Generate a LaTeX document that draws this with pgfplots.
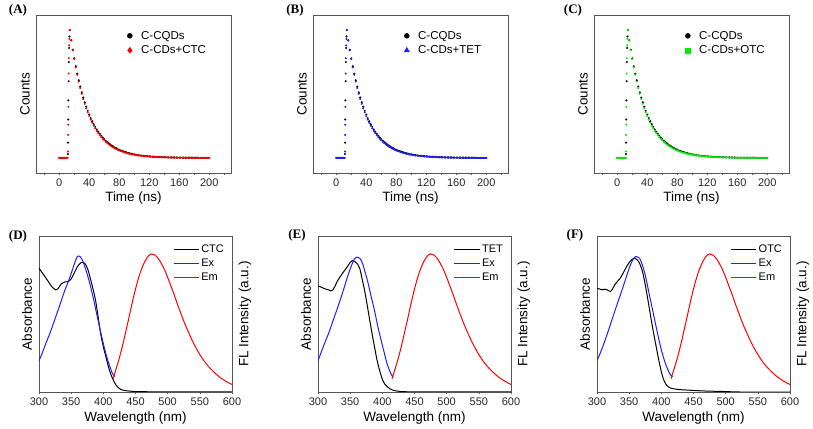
\documentclass[border=0pt]{standalone}
\usepackage{pgfplots}
\pgfplotsset{compat=1.18}
\usepackage{pgfplotstable}
\usepackage{fontspec}
\setmainfont{Liberation Sans}
\newfontfamily\tnr{Liberation Serif}
\definecolor{myblue}{RGB}{30,30,255}
\definecolor{mygreen}{RGB}{0,240,0}
\definecolor{myred}{RGB}{255,0,0}
\definecolor{frame}{RGB}{85,85,85}

\pgfplotstableread{
t a b
0 0 0
1 0 0
2 0 0
3 0 0
4 0 0
5 0 0
6 0 0
7 0 0
8 0 0
9 0 0
10 0 0
11 0 0
11.6 0.03 0.05
11.8 0.12 0.18
12 0.30 0.26
12.2 0.45 0.40
12.5 0.60 0.66
12.8 0.75 0.78
13.2 0.86 0.88
13.6 0.95 0.93
14 1.000 1.000
16 0.920 0.918
18 0.846 0.842
20 0.779 0.773
22 0.717 0.709
24 0.659 0.650
26 0.607 0.597
28 0.558 0.547
30 0.513 0.502
32 0.472 0.461
34 0.435 0.423
36 0.400 0.388
38 0.368 0.356
40 0.339 0.327
42 0.311 0.300
44 0.287 0.275
46 0.264 0.252
48 0.243 0.231
50 0.223 0.212
52 0.205 0.195
54 0.189 0.179
56 0.174 0.164
58 0.160 0.150
60 0.147 0.138
62 0.135 0.126
64 0.125 0.116
66 0.115 0.106
68 0.105 0.097
70 0.097 0.089
72 0.089 0.082
74 0.082 0.075
76 0.076 0.069
78 0.069 0.063
80 0.064 0.058
82 0.059 0.053
84 0.054 0.049
86 0.050 0.045
88 0.046 0.041
90 0.042 0.038
92 0.039 0.035
94 0.036 0.032
96 0.033 0.029
98 0.030 0.027
100 0.028 0.025
102 0.026 0.023
104 0.024 0.021
106 0.022 0.019
108 0.020 0.018
110 0.018 0.016
112 0.017 0.015
114 0.015 0.014
116 0.014 0.013
118 0.013 0.012
120 0.012 0.011
122 0.011 0.010
124 0.010 0.009
126 0.009 0.008
128 0.009 0.008
130 0.008 0.007
132 0.007 0.006
134 0.007 0.006
136 0.006 0.005
138 0.006 0.005
140 0.005 0.004
142 0.005 0.004
144 0.004 0.004
146 0.004 0.003
148 0.004 0.003
150 0.003 0.003
152 0.003 0.003
154 0.003 0.002
156 0.003 0.002
158 0.002 0.002
160 0.002 0.002
162 0.002 0.002
164 0.002 0.001
166 0.002 0.001
168 0.001 0.001
170 0.001 0.001
172 0.001 0.001
174 0.001 0.001
176 0.001 0.001
178 0.001 0.001
180 0.001 0.000
182 0.001 0.000
184 0.001 0.000
186 0.000 0.000
188 0.000 0.000
190 0.000 0.000
192 0.000 0.000
194 0.000 0.000
196 0.000 0.000
198 0.000 0.000
200 0.000 0.000
}\decay

\pgfplotstableread{
x y
415 0.085
420 0.15
425 0.22
430 0.30
435 0.39
440 0.48
445 0.575
450 0.66
455 0.735
460 0.795
465 0.84
470 0.872
475 0.885
480 0.878
485 0.858
490 0.825
495 0.785
500 0.735
505 0.68
510 0.625
515 0.565
520 0.51
525 0.455
530 0.405
540 0.315
550 0.24
560 0.18
570 0.135
580 0.098
590 0.07
600 0.048
}\emission

\pgfplotstableread{
x y
300 0.793
305 0.765
310 0.735
315 0.705
320 0.675
326 0.655
330 0.665
335 0.695
340 0.705
345 0.708
350 0.725
355 0.765
360 0.805
365 0.828
368 0.832
372 0.820
376 0.785
380 0.725
384 0.66
388 0.585
392 0.48
396 0.37
400 0.29
404 0.225
408 0.16
412 0.11
416 0.072
420 0.043
425 0.022
430 0.012
440 0.006
450 0.003
470 0.0015
500 0.001
550 0.0005
600 0.0
}\absCTC

\pgfplotstableread{
x y
300 0.20
305 0.25
310 0.305
317 0.377
325 0.47
333 0.565
340 0.65
348 0.735
354 0.81
358 0.855
361 0.872
364 0.868
368 0.84
372 0.795
376 0.74
380 0.68
385 0.59
390 0.495
395 0.40
400 0.31
405 0.23
410 0.165
414 0.12
418 0.10
}\exCTC

\pgfplotstableread{
x y
300 0.68
305 0.672
311 0.661
316 0.655
320 0.648
323 0.655
326 0.675
330 0.71
335 0.742
340 0.772
345 0.80
350 0.83
353 0.842
357 0.838
361 0.822
365 0.79
368 0.735
372 0.66
376 0.569
380 0.47
384 0.375
388 0.285
392 0.20
396 0.135
400 0.082
404 0.05
408 0.033
412 0.02
417 0.011
425 0.005
433 0.002
460 0.001
600 0.0
}\absTET

\pgfplotstableread{
x y
300 0.20
305 0.255
310 0.31
316.6 0.377
324 0.465
332 0.559
340 0.66
347.6 0.761
352 0.81
356 0.85
359.5 0.864
363 0.862
366 0.852
370 0.815
373 0.77
376 0.729
380 0.66
383 0.605
386.4 0.548
390 0.48
393 0.42
396.7 0.356
400 0.30
404 0.235
407 0.186
411 0.14
415 0.104
417.4 0.10
}\exTET

\pgfplotstableread{
x y
300 0.665
304 0.66
308 0.655
312 0.659
316 0.655
320.7 0.644
324 0.66
328 0.69
332 0.71
336 0.729
341 0.765
346 0.804
351 0.835
355 0.852
358 0.857
361 0.852
365 0.834
369 0.795
372 0.75
376 0.665
380 0.569
384 0.47
388 0.377
392 0.29
396 0.205
400 0.13
403 0.085
407 0.05
411 0.033
414 0.026
420 0.02
430 0.015
450 0.01
470 0.006
500 0.003
522 0.0
600 0.0
}\absOTC

\pgfplotstableread{
x y
300 0.20
308 0.28
315.5 0.367
323 0.46
331 0.559
339 0.655
346.6 0.751
352 0.815
356 0.85
360 0.868
363 0.866
366.2 0.857
370 0.82
375 0.75
380 0.65
385.3 0.548
390 0.455
395.7 0.345
400 0.27
406 0.186
410 0.145
413.8 0.111
418 0.10
}\exOTC

\pgfplotsset{
  common/.style={scale only axis,
    axis line style={frame, line width=0.7pt},
    ytick=\empty, xtick pos=left, tick align=outside,
    major tick length=2pt, minor tick length=2pt,
    tick style={frame, line width=0.6pt},
    tick label style={font=\fontsize{11}{13}\selectfont, text=black!85},
    /pgf/number format/assume math mode=true,
    label style={font=\fontsize{13.5}{16}\selectfont},
    legend cell align=left},
  decay/.style={common, width=195pt, height=158pt,
    xmin=-31, xmax=229, ymin=-0.118, ymax=1.118,
    xtick={0,40,...,200}, minor xtick={-20,20,...,220},
    xlabel={Time (ns)}, ylabel={Counts},
    xlabel style={at={(axis description cs:0.5,-0.158)}, anchor=center},
    ylabel style={at={(axis description cs:-0.056,0.5)}, anchor=center},
    legend style={draw=none, fill=none, at={(0.42,0.925)}, anchor=north west,
      font=\fontsize{11.5}{13}\selectfont, row sep=1pt},
    legend image code/.code={\path (0cm,0cm) (0.62cm,0cm); \draw[##1] plot coordinates {(0.3cm,0cm)};}},
  spec/.style={common, width=193pt, height=156pt,
    xmin=300, xmax=600, ymin=0, ymax=1,
    xtick={300,350,...,600},
    xlabel={Wavelength (nm)}, ylabel={Absorbance},
    xlabel style={at={(axis description cs:0.5,-0.167)}, anchor=center},
    ylabel style={at={(axis description cs:-0.062,0.5)}, anchor=center},
    legend style={draw=none, fill=none, at={(0.985,0.97)}, anchor=north east,
      font=\fontsize{11}{13}\selectfont, row sep=1pt},
    legend image code/.code={\draw[##1] plot coordinates {(0cm,0cm) (0.88cm,0cm)};},
    extra description/.code={\node[rotate=90, anchor=center, font=\fontsize{13.5}{16}\selectfont] at (1.067,0.5) {FL Intensity (a.u.)};}},
  dots/.style={only marks, mark size=0.8pt, forget plot},
  curve/.style={smooth, line width=1pt, forget plot}
}

\begin{document}
\begin{tikzpicture}
\path[use as bounding box] (0pt,0pt) rectangle (813pt,428pt);

\begin{axis}[decay, at={(36pt,255pt)}, anchor=south west]
\addlegendimage{only marks, mark=*, mark size=2.5pt, black}
\addlegendentry{C-CQDs}
\addlegendimage{only marks, mark=diamond*, mark size=3pt, myred}
\addlegendentry{C-CDs+CTC}
\addplot[dots, mark=*, black] table[x=t, y=a] {\decay};
\addplot[dots, mark=*, myred] table[x=t, y=b] {\decay};
\end{axis}

\begin{axis}[decay, at={(313pt,255pt)}, anchor=south west]
\addlegendimage{only marks, mark=*, mark size=2.5pt, black}
\addlegendentry{C-CQDs}
\addlegendimage{only marks, mark=triangle*, mark size=3pt, myblue}
\addlegendentry{C-CDs+TET}
\addplot[dots, mark=*, black] table[x=t, y=a] {\decay};
\addplot[dots, mark=*, myblue] table[x=t, y=b] {\decay};
\end{axis}

\begin{axis}[decay, at={(594pt,255pt)}, anchor=south west]
\addlegendimage{only marks, mark=*, mark size=2.5pt, black}
\addlegendentry{C-CQDs}
\addlegendimage{only marks, mark=square*, mark size=2.4pt, mygreen}
\addlegendentry{C-CDs+OTC}
\addplot[dots, mark=*, black] table[x=t, y=a] {\decay};
\addplot[dots, mark=*, mygreen] table[x=t, y=b] {\decay};
\end{axis}

\begin{axis}[spec, at={(39pt,36pt)}, anchor=south west]
\addlegendimage{black, line width=1.2pt}
\addlegendentry{CTC}
\addlegendimage{myblue, line width=1.2pt}
\addlegendentry{Ex}
\addlegendimage{myred, line width=1.2pt}
\addlegendentry{Em}
\addplot[curve, black] table {\absCTC};
\addplot[curve, myblue] table {\exCTC};
\addplot[curve, myred] table {\emission};
\end{axis}

\begin{axis}[spec, at={(318pt,36pt)}, anchor=south west]
\addlegendimage{black, line width=1.2pt}
\addlegendentry{TET}
\addlegendimage{myblue, line width=1.2pt}
\addlegendentry{Ex}
\addlegendimage{myred, line width=1.2pt}
\addlegendentry{Em}
\addplot[curve, black] table {\absTET};
\addplot[curve, myblue] table {\exTET};
\addplot[curve, myred] table {\emission};
\end{axis}

\begin{axis}[spec, at={(597pt,36pt)}, anchor=south west]
\addlegendimage{black, line width=1.2pt}
\addlegendentry{OTC}
\addlegendimage{myblue, line width=1.2pt}
\addlegendentry{Ex}
\addlegendimage{myred, line width=1.2pt}
\addlegendentry{Em}
\addplot[curve, black] table {\absOTC};
\addplot[curve, myblue] table {\exOTC};
\addplot[curve, myred] table {\emission};
\end{axis}

\node[font=\tnr\bfseries\fontsize{13}{15}\selectfont] at (18pt,418pt) {(A)};
\node[font=\tnr\bfseries\fontsize{13}{15}\selectfont] at (295pt,418pt) {(B)};
\node[font=\tnr\bfseries\fontsize{13}{15}\selectfont] at (573pt,418pt) {(C)};
\node[font=\tnr\bfseries\fontsize{13}{15}\selectfont] at (18pt,192pt) {(D)};
\node[font=\tnr\bfseries\fontsize{13}{15}\selectfont] at (297pt,193pt) {(E)};
\node[font=\tnr\bfseries\fontsize{13}{15}\selectfont] at (575pt,193pt) {(F)};
\end{tikzpicture}
\end{document}
